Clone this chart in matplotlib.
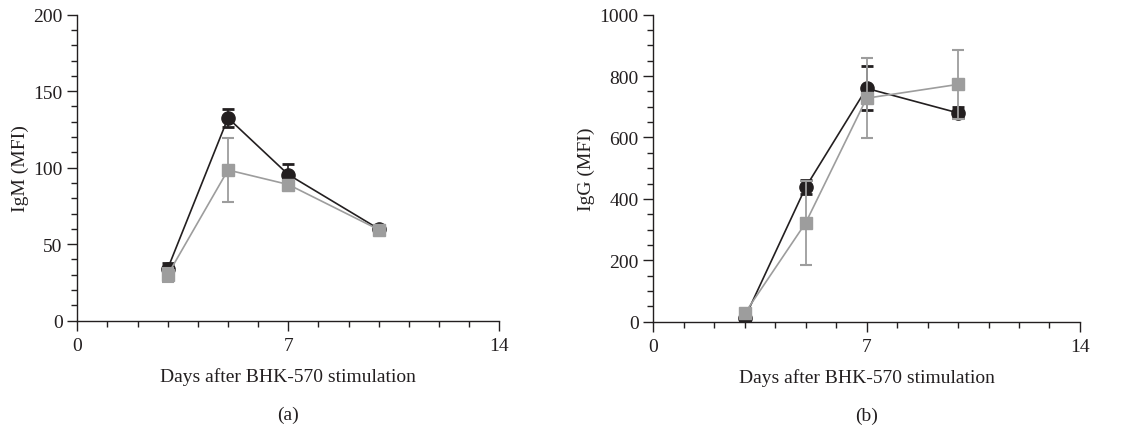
import numpy as np
import matplotlib.pyplot as plt
from matplotlib.ticker import MultipleLocator

plt.rcParams['font.family'] = ['Liberation Serif', 'DejaVu Serif']

days = [3, 5, 7, 10]

# IgM (MFI)
igm_black = [34, 132.5, 95.5, 60]
igm_black_err = [3.5, 6, 7, 0]
igm_gray = [30, 98.5, 89, 59.5]
igm_gray_err = [4.5, 21, 0, 0]

# IgG (MFI)
igg_black = [12, 438, 760, 680]
igg_black_err = [0, 22, 72, 18]
igg_gray = [27, 322, 728, 773]
igg_gray_err = [0, 136, 130, 113]

ink = '#231f20'
gray = '#9d9d9d'
fs = 14

fig = plt.figure(figsize=(11.35, 4.31), dpi=100)
ax1 = fig.add_axes([0.0681, 0.2536, 0.3718, 0.7100])
ax2 = fig.add_axes([0.5756, 0.2513, 0.3759, 0.7123])


def draw_panel(ax, yb, eb, yg, eg, ymax, ymajor, yminor, ylabel, tag):
    ax.errorbar(days, yb, yerr=eb, color=ink, marker='o', markersize=9.5,
                lw=1.2, elinewidth=1.2, capsize=4.5, capthick=2, zorder=3)
    ax.errorbar(days, yg, yerr=eg, color=gray, marker='s', markersize=9.3,
                lw=1.2, elinewidth=1.3, capsize=4.5, capthick=1.5, zorder=4)
    ax.set_xlim(0, 14)
    ax.set_ylim(0, ymax)
    ax.set_xticks([0, 7, 14])
    ax.xaxis.set_minor_locator(MultipleLocator(1))
    ax.yaxis.set_major_locator(MultipleLocator(ymajor))
    ax.yaxis.set_minor_locator(MultipleLocator(yminor))
    for s in ['top', 'right']:
        ax.spines[s].set_visible(False)
    for s in ['left', 'bottom']:
        ax.spines[s].set_color(ink)
        ax.spines[s].set_linewidth(1)
    ax.tick_params(which='major', direction='out', length=7, width=1,
                   color=ink, labelcolor=ink, labelsize=fs)
    ax.tick_params(axis='x', which='major', pad=5)
    ax.tick_params(which='minor', direction='out', length=4.5, width=1,
                   color=ink)
    ax.set_xlabel('Days after BHK-570 stimulation', color=ink, fontsize=fs,
                  labelpad=9)
    ax.set_ylabel(ylabel, color=ink, fontsize=fs, labelpad=3)
    ax.text(0.5, -0.305, tag, transform=ax.transAxes, ha='center',
            va='center', color=ink, fontsize=fs)


draw_panel(ax1, igm_black, igm_black_err, igm_gray, igm_gray_err,
           200, 50, 10, 'IgM (MFI)', '(a)')
draw_panel(ax2, igg_black, igg_black_err, igg_gray, igg_gray_err,
           1000, 200, 50, 'IgG (MFI)', '(b)')

fig.savefig('out.png', dpi=100)
